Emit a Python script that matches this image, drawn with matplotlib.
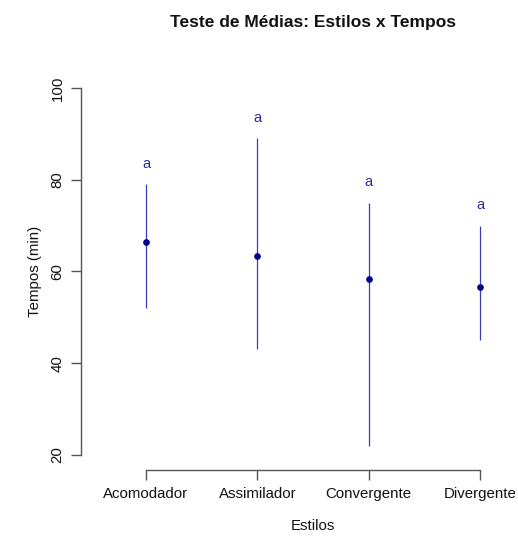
import matplotlib
matplotlib.use("Agg")
import matplotlib.pyplot as plt

categories = ["Acomodador", "Assimilador", "Convergente", "Divergente"]
means = [66.5, 63.3, 58.3, 56.6]
lower = [52.0, 43.0, 22.0, 45.0]
upper = [79.0, 89.0, 75.0, 70.0]
letters = ["a", "a", "a", "a"]
yticks = [20, 40, 60, 80, 100]

W, H = 518, 536
fig = plt.figure(figsize=(W / 100, H / 100), dpi=100)
plt.rcParams['font.family'] = ['Liberation Sans', 'DejaVu Sans']

# plot region in pixels (R-style, extends past right edge)
left_px, right_px = 81.4, 544.6
top_px, bot_px = 73.3, 469.5
ax = fig.add_axes([left_px / W, 1 - bot_px / H, (right_px - left_px) / W, (bot_px - top_px) / H])
ax.set_xlim(0.42, 4.58)
ax.set_ylim(16.8, 103.2)

xs = list(range(1, len(categories) + 1))
ax.vlines(xs, lower, upper, color='#3a3abf', lw=0.9)
ax.plot(xs, means, 'o', color='#00008B', ms=3.8, zorder=3)
offset = 4.5
for x, u, l in zip(xs, upper, letters):
    ax.text(x, u + offset, l, color='#2a2aa5', ha='center', va='center', fontsize=10.5)

for s in ['top', 'right']:
    ax.spines[s].set_visible(False)
ax.spines['left'].set_bounds(20, 100)
ax.spines['bottom'].set_bounds(1, 4)
for s in ['left', 'bottom']:
    ax.spines[s].set_color('#555555')
    ax.spines[s].set_linewidth(1.0)

ax.set_yticks(yticks)
ax.set_yticklabels([str(v) for v in yticks], rotation=90, va='center')
ax.set_xticks(xs)
ax.set_xticklabels(categories)
ax.tick_params(axis='both', direction='out', length=7, width=1.0, color='#555555',
               labelsize=10.8, labelcolor='#111111')
ax.tick_params(axis='y', pad=5)
ax.tick_params(axis='x', pad=5.5)

ax.set_xlabel("Estilos", fontsize=10.8, color='#111111', labelpad=13)
ax.set_ylabel("Tempos (min)", fontsize=10.8, color='#111111', labelpad=6)
fig.text(((left_px + right_px) / 2) / W, 1 - 23 / H, "Teste de Médias: Estilos x Tempos",
         ha='center', va='center', fontsize=12.5, fontweight='bold', color='#111111')

fig.savefig("out.png", dpi=100)
